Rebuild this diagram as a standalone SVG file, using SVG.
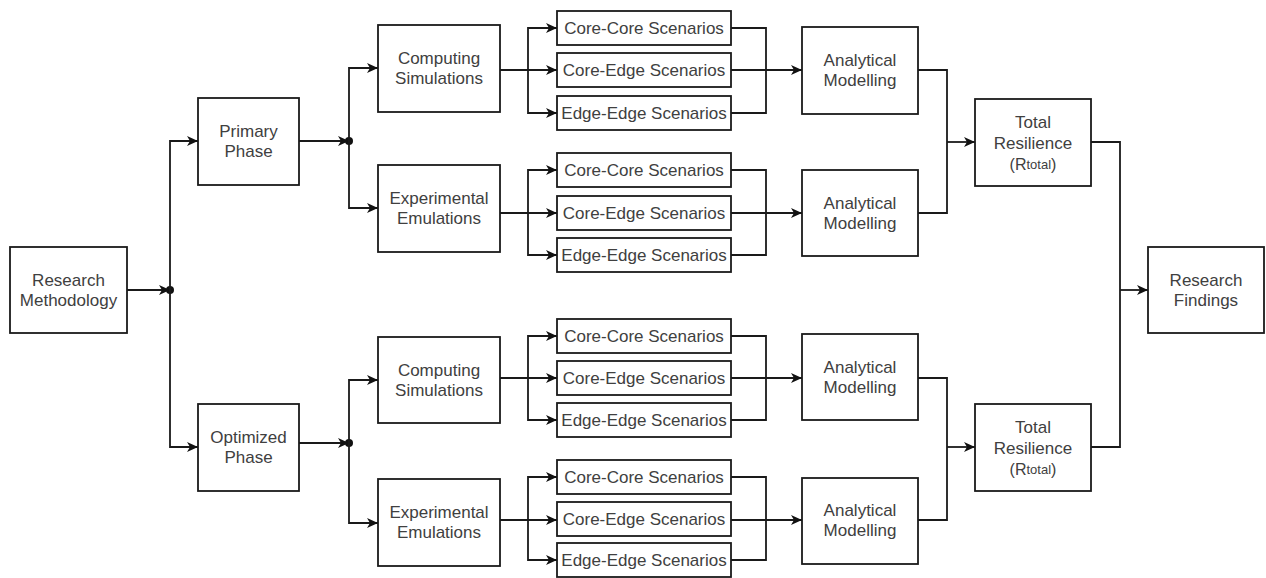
<svg xmlns="http://www.w3.org/2000/svg" width="1266" height="578" viewBox="0 0 1266 578">
  <defs>
    <marker id="arrow" markerUnits="userSpaceOnUse" markerWidth="12" markerHeight="11" refX="11" refY="5" orient="auto">
      <path d="M0,0 L11,5 L0,10 L3,5 Z" fill="#111"/>
    </marker>
    <style>
      .box { fill: #ffffff; stroke: #1a1a1a; stroke-width: 1.8; }
      .lbl { font-family: "Liberation Sans", Arial, Helvetica, sans-serif; font-size: 17px; fill: #404040; text-anchor: middle; dominant-baseline: central; }
      .sm { font-size: 16px; }
      .sub { font-size: 13px; }
      .wire { fill: none; stroke: #1a1a1a; stroke-width: 1.8; }
      .arr { marker-end: url(#arrow); }
      .dot { fill: #111; }
    </style>
  </defs>
  <rect width="1266" height="578" fill="#ffffff"/>

  <!-- connectors -->
  <g id="connectors">
    <!-- methodology split -->
    <path class="wire arr" d="M127,290 H170"/>
    <circle class="dot" cx="170" cy="290" r="4"/>
    <path class="wire arr" d="M170,290 V141 H198"/>
    <path class="wire arr" d="M170,290 V447 H198"/>

    <!-- primary phase split -->
    <path class="wire arr" d="M299,141 H349"/>
    <circle class="dot" cx="349" cy="141" r="4"/>
    <path class="wire arr" d="M349,141 V68 H378"/>
    <path class="wire arr" d="M349,141 V208 H378"/>

    <!-- optimized phase split -->
    <path class="wire arr" d="M299,443 H349"/>
    <circle class="dot" cx="349" cy="443" r="4"/>
    <path class="wire arr" d="M349,443 V380 H378"/>
    <path class="wire arr" d="M349,443 V523 H378"/>

    <!-- computing simulations (primary) -->
    <path class="wire arr" d="M500,70 H557"/>
    <path class="wire arr" d="M528,70 V28 H557"/>
    <path class="wire arr" d="M528,70 V113 H557"/>
    <path class="wire" d="M731,28 H766 V113 H731"/>
    <path class="wire arr" d="M731,70 H802"/>

    <!-- experimental emulations (primary) -->
    <path class="wire arr" d="M500,213 H557"/>
    <path class="wire arr" d="M528,213 V170 H557"/>
    <path class="wire arr" d="M528,213 V255 H557"/>
    <path class="wire" d="M731,170 H766 V255 H731"/>
    <path class="wire arr" d="M731,213 H802"/>

    <!-- computing simulations (optimized) -->
    <path class="wire arr" d="M500,378 H557"/>
    <path class="wire arr" d="M528,378 V336 H557"/>
    <path class="wire arr" d="M528,378 V420 H557"/>
    <path class="wire" d="M731,336 H766 V420 H731"/>
    <path class="wire arr" d="M731,378 H802"/>

    <!-- experimental emulations (optimized) -->
    <path class="wire arr" d="M500,520 H557"/>
    <path class="wire arr" d="M528,520 V477 H557"/>
    <path class="wire arr" d="M528,520 V560 H557"/>
    <path class="wire" d="M731,477 H766 V560 H731"/>
    <path class="wire arr" d="M731,520 H802"/>

    <!-- modelling to total resilience -->
    <path class="wire" d="M918,70 H947 V213 H918"/>
    <path class="wire arr" d="M947,142 H975"/>
    <path class="wire" d="M918,378 H947 V520 H918"/>
    <path class="wire arr" d="M947,447 H975"/>

    <!-- total resilience to findings -->
    <path class="wire" d="M1091,142 H1120 V447 H1091"/>
    <path class="wire arr" d="M1120,290 H1148"/>
  </g>

  <!-- nodes -->
  <g id="research-methodology">
    <rect class="box" x="10" y="247" width="117" height="86"/>
    <text class="lbl" x="68.5" y="280">Research</text>
    <text class="lbl" x="68.5" y="300">Methodology</text>
  </g>
  <g id="primary-phase">
    <rect class="box" x="198" y="98" width="101" height="87"/>
    <text class="lbl" x="248.5" y="131">Primary</text>
    <text class="lbl" x="248.5" y="151">Phase</text>
  </g>
  <g id="optimized-phase">
    <rect class="box" x="198" y="404" width="101" height="87"/>
    <text class="lbl" x="248.5" y="437">Optimized</text>
    <text class="lbl" x="248.5" y="457">Phase</text>
  </g>

  <g id="computing-simulations-1">
    <rect class="box" x="378" y="25" width="122" height="87"/>
    <text class="lbl" x="439" y="58">Computing</text>
    <text class="lbl" x="439" y="78">Simulations</text>
  </g>
  <g id="experimental-emulations-1">
    <rect class="box" x="378" y="165" width="122" height="87"/>
    <text class="lbl" x="439" y="198">Experimental</text>
    <text class="lbl" x="439" y="218">Emulations</text>
  </g>
  <g id="computing-simulations-2">
    <rect class="box" x="378" y="337" width="122" height="86"/>
    <text class="lbl" x="439" y="370">Computing</text>
    <text class="lbl" x="439" y="390">Simulations</text>
  </g>
  <g id="experimental-emulations-2">
    <rect class="box" x="378" y="479" width="122" height="87"/>
    <text class="lbl" x="439" y="512">Experimental</text>
    <text class="lbl" x="439" y="532">Emulations</text>
  </g>

  <!-- scenario boxes -->
  <g id="cs1-core-core"><rect class="box" x="557" y="11" width="174" height="34"/><text class="lbl" x="644" y="28">Core-Core Scenarios</text></g>
  <g id="cs1-core-edge"><rect class="box" x="557" y="53" width="174" height="34"/><text class="lbl" x="644" y="70">Core-Edge Scenarios</text></g>
  <g id="cs1-edge-edge"><rect class="box" x="557" y="96" width="174" height="34"/><text class="lbl" x="644" y="113">Edge-Edge Scenarios</text></g>

  <g id="ee1-core-core"><rect class="box" x="557" y="153" width="174" height="34"/><text class="lbl" x="644" y="170">Core-Core Scenarios</text></g>
  <g id="ee1-core-edge"><rect class="box" x="557" y="196" width="174" height="34"/><text class="lbl" x="644" y="213">Core-Edge Scenarios</text></g>
  <g id="ee1-edge-edge"><rect class="box" x="557" y="238" width="174" height="34"/><text class="lbl" x="644" y="255">Edge-Edge Scenarios</text></g>

  <g id="cs2-core-core"><rect class="box" x="557" y="319" width="174" height="34"/><text class="lbl" x="644" y="336">Core-Core Scenarios</text></g>
  <g id="cs2-core-edge"><rect class="box" x="557" y="361" width="174" height="34"/><text class="lbl" x="644" y="378">Core-Edge Scenarios</text></g>
  <g id="cs2-edge-edge"><rect class="box" x="557" y="403" width="174" height="34"/><text class="lbl" x="644" y="420">Edge-Edge Scenarios</text></g>

  <g id="ee2-core-core"><rect class="box" x="557" y="460" width="174" height="34"/><text class="lbl" x="644" y="477">Core-Core Scenarios</text></g>
  <g id="ee2-core-edge"><rect class="box" x="557" y="502" width="174" height="34"/><text class="lbl" x="644" y="519">Core-Edge Scenarios</text></g>
  <g id="ee2-edge-edge"><rect class="box" x="557" y="543" width="174" height="34"/><text class="lbl" x="644" y="560">Edge-Edge Scenarios</text></g>

  <!-- analytical modelling -->
  <g id="analytical-1">
    <rect class="box" x="802" y="27" width="116" height="87"/>
    <text class="lbl" x="860" y="60">Analytical</text>
    <text class="lbl" x="860" y="80">Modelling</text>
  </g>
  <g id="analytical-2">
    <rect class="box" x="802" y="170" width="116" height="86"/>
    <text class="lbl" x="860" y="203">Analytical</text>
    <text class="lbl" x="860" y="223">Modelling</text>
  </g>
  <g id="analytical-3">
    <rect class="box" x="802" y="334" width="116" height="86"/>
    <text class="lbl" x="860" y="367">Analytical</text>
    <text class="lbl" x="860" y="387">Modelling</text>
  </g>
  <g id="analytical-4">
    <rect class="box" x="802" y="478" width="116" height="86"/>
    <text class="lbl" x="860" y="510">Analytical</text>
    <text class="lbl" x="860" y="530">Modelling</text>
  </g>

  <!-- total resilience -->
  <g id="total-resilience-1">
    <rect class="box" x="975" y="99" width="116" height="87"/>
    <text class="lbl" x="1033" y="122">Total</text>
    <text class="lbl" x="1033" y="143">Resilience</text>
    <text class="lbl" x="1033" y="164"><tspan class="sm">(R</tspan><tspan class="sub">total</tspan><tspan class="sm">)</tspan></text>
  </g>
  <g id="total-resilience-2">
    <rect class="box" x="975" y="404" width="116" height="87"/>
    <text class="lbl" x="1033" y="427">Total</text>
    <text class="lbl" x="1033" y="448">Resilience</text>
    <text class="lbl" x="1033" y="469"><tspan class="sm">(R</tspan><tspan class="sub">total</tspan><tspan class="sm">)</tspan></text>
  </g>

  <g id="research-findings">
    <rect class="box" x="1148" y="247" width="116" height="86"/>
    <text class="lbl" x="1206" y="280">Research</text>
    <text class="lbl" x="1206" y="300">Findings</text>
  </g>
</svg>
